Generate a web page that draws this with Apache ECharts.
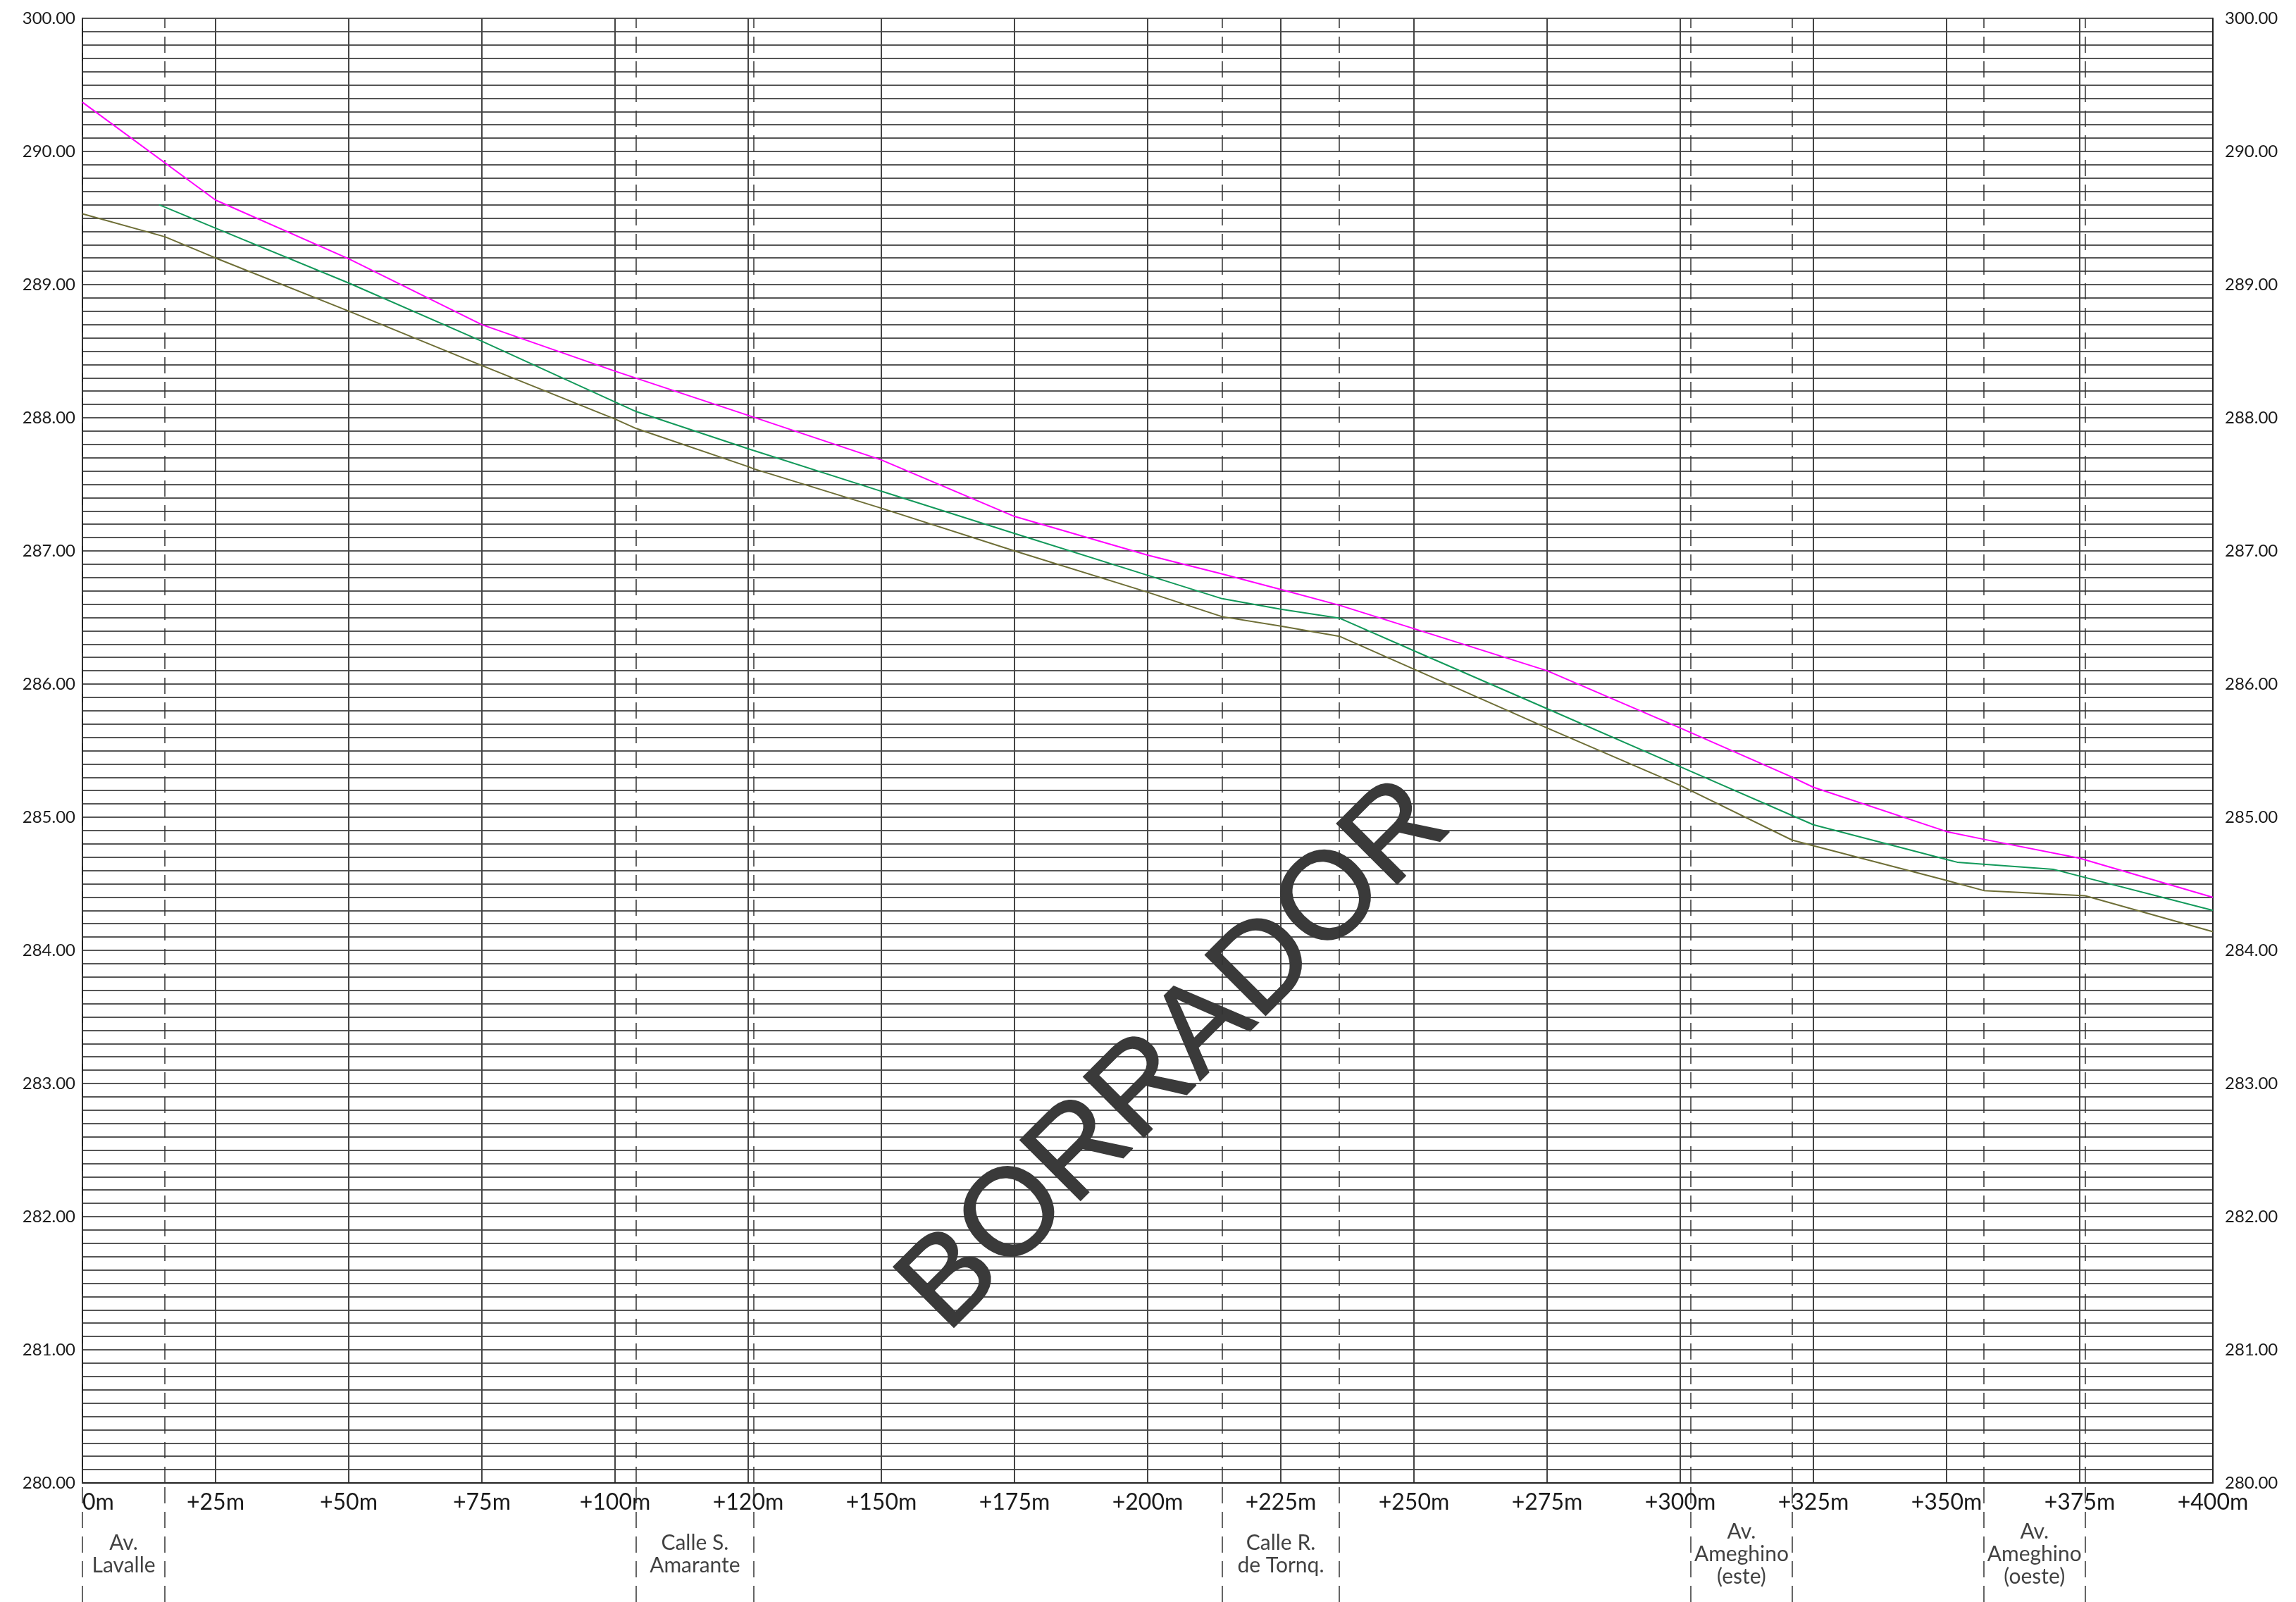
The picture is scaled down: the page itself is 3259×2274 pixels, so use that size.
<!DOCTYPE html>
<html>
<head>
<meta charset="utf-8">
<script src="https://cdn.jsdelivr.net/npm/echarts@6/dist/echarts.min.js"></script>
<style>
html,body{margin:0;padding:0;background:#fff;}
#chart{width:3259px;height:2274px;}
</style>
</head>
<body>
<div id="chart"></div>
<script>
// ---- Data ----
const xTickValues = [0,25,50,75,100,125,150,175,200,225,250,275,300,325,350,375,400];
const xTickLabels = ['0m','+25m','+50m','+75m','+100m','+120m','+150m','+175m','+200m','+225m','+250m','+275m','+300m','+325m','+350m','+375m','+400m'];
const yTickValues = [280,281,282,283,284,285,286,287,288,289,290,291];
const yTickLabels = ['280.00','281.00','282.00','283.00','284.00','285.00','286.00','287.00','288.00','289.00','290.00','300.00'];

const magentaStations = [0,25,50,75,100,125,150,175,200,214,225,236,250,275,300,321,325,350,357,375,400];
const magentaElev = [290.37,289.635,289.194,288.699,288.35,288.018,287.683,287.259,286.968,286.827,286.71,286.592,286.416,286.10,285.67,285.301,285.225,284.892,284.834,284.692,284.398];

const greenStations = [14.4,25,50,75,100,104,125,150,175,200,214,225,236,250,275,300,325,350,352,370,400];
const greenElev = [289.60,289.424,289.012,288.575,288.118,288.046,287.767,287.448,287.131,286.817,286.641,286.562,286.495,286.25,285.815,285.379,284.943,284.683,284.662,284.609,284.30];

const oliveStations = [0,15.5,25,50,75,100,104,125,126,150,175,200,214,225,236,250,275,300,321,325,350,357,376,400];
const oliveElev = [289.532,289.359,289.20,288.801,288.392,287.99,287.919,287.633,287.617,287.321,287.0,286.69,286.506,286.435,286.359,286.112,285.67,285.239,284.828,284.786,284.525,284.449,284.41,284.14];

const streetNames = ['Av.\nLavalle','Calle S.\nAmarante','Calle R.\nde Tornq.','Av.\nAmeghino\n(este)','Av.\nAmeghino\n(oeste)'];
const streetFrom = [0,104,214,302,357];
const streetTo = [15.5,126,236,321,376];

const watermarkText = 'BORRADOR';

// ---- Build ----
const pairs = (xs, ys) => xs.map((x, i) => [x, ys[i]]);
const FONT = 'Lato';
const dashLines = [];
streetFrom.forEach((v, i) => { dashLines.push({xAxis: v}); dashLines.push({xAxis: streetTo[i]}); });
const dashStyle = {color: '#333', width: 1.5, type: [23, 12]};

const chart = echarts.init(document.getElementById('chart'), null, {renderer: 'canvas'});
const option = {
  backgroundColor: '#ffffff',
  animation: false,
  grid: [
    {left: 117, top: 26, width: 3024, height: 2079},
    {left: 117, top: 2105, width: 3024, height: 169}
  ],
  xAxis: [
    {
      type: 'value', gridIndex: 0, min: 0, max: 400, interval: 25,
      axisLine: {show: true, lineStyle: {color: '#222', width: 2}},
      axisTick: {show: false},
      splitLine: {show: true, showMinLine: true, showMaxLine: true, lineStyle: {color: '#444', width: 2}},
      axisLabel: {
        show: true, margin: 12, fontFamily: FONT, fontWeight: 'normal', fontSize: 32, color: '#1a1a1a',
        alignMinLabel: 'left',
        formatter: v => { const i = xTickValues.indexOf(v); return i >= 0 ? xTickLabels[i] : ''; }
      }
    },
    {type: 'value', gridIndex: 1, min: 0, max: 400, show: false}
  ],
  yAxis: [
    {
      type: 'value', gridIndex: 0, min: 280, max: 291, interval: 1, position: 'left',
      axisLine: {show: true, lineStyle: {color: '#222', width: 2}},
      axisTick: {show: false},
      splitLine: {show: true, lineStyle: {color: '#1e1e1e', width: 1.5}},
      minorTick: {show: false, splitNumber: 10},
      minorSplitLine: {show: true, lineStyle: {color: '#1e1e1e', width: 1.5}},
      axisLabel: {
        margin: 10, fontFamily: FONT, fontWeight: 'normal', fontSize: 24, color: '#1a1a1a',
        formatter: v => { const i = yTickValues.indexOf(v); return i >= 0 ? yTickLabels[i] : ''; }
      }
    },
    {
      type: 'value', gridIndex: 0, min: 280, max: 291, interval: 1, position: 'right',
      axisLine: {show: true, lineStyle: {color: '#222', width: 2}},
      axisTick: {show: false},
      splitLine: {show: false},
      axisLabel: {
        margin: 17, fontFamily: FONT, fontWeight: 'normal', fontSize: 24, color: '#1a1a1a',
        formatter: v => { const i = yTickValues.indexOf(v); return i >= 0 ? yTickLabels[i] : ''; }
      }
    },
    {type: 'value', gridIndex: 1, min: 0, max: 1, show: false}
  ],
  graphic: [{
    type: 'text', x: 1669, y: 1500, rotation: Math.PI / 4, z: 1, silent: true,
    style: {
      text: watermarkText, fontSize: 176, fontFamily: 'Liberation Sans',
      fill: '#3a3a3a', align: 'center', verticalAlign: 'middle',
      stroke: '#3a3a3a', lineWidth: 2
    }
  }],
  series: [
    {
      name: 'Perfil magenta', type: 'line', xAxisIndex: 0, yAxisIndex: 0,
      data: pairs(magentaStations, magentaElev), showSymbol: false, z: 5,
      lineStyle: {color: '#ff00ff', width: 2}, itemStyle: {color: '#ff00ff'},
      markLine: {silent: true, symbol: 'none', label: {show: false}, lineStyle: dashStyle, data: dashLines}
    },
    {
      name: 'Perfil verde', type: 'line', xAxisIndex: 0, yAxisIndex: 0,
      data: pairs(greenStations, greenElev), showSymbol: false, z: 5,
      lineStyle: {color: '#12995a', width: 2}, itemStyle: {color: '#12995a'}
    },
    {
      name: 'Perfil oliva', type: 'line', xAxisIndex: 0, yAxisIndex: 0,
      data: pairs(oliveStations, oliveElev), showSymbol: false, z: 5,
      lineStyle: {color: '#6e6e36', width: 2}, itemStyle: {color: '#6e6e36'}
    },
    {
      name: 'Calles', type: 'scatter', xAxisIndex: 1, yAxisIndex: 2,
      symbolSize: 0, silent: true,
      data: streetNames.map((n, i) => ({name: n, value: [(streetFrom[i] + streetTo[i]) / 2, 0.4]})),
      label: {
        show: true, position: 'inside', formatter: p => p.name,
        fontFamily: FONT, fontWeight: 'normal', fontSize: 30, lineHeight: 32, color: '#111', align: 'center'
      },
      markLine: {silent: true, symbol: 'none', label: {show: false}, lineStyle: dashStyle, data: dashLines}
    }
  ]
};
chart.setOption(option);
</script>
</body>
</html>
